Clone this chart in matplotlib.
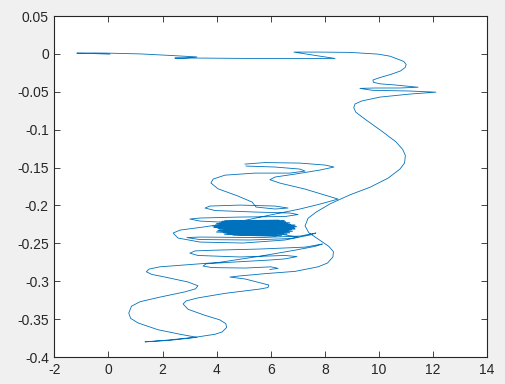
import numpy as np
import matplotlib
matplotlib.use("Agg")
import matplotlib.pyplot as plt

plt.rcParams['font.family'] = ['Liberation Sans', 'DejaVu Sans']
plt.rcParams['axes.unicode_minus'] = False

# traced trajectory, in data units (x, y)
# top line, right-hand loops, big S down to the bottom, left loop, long line up
seg_main = [
    (0.05, -0.0003), (-0.60, 0.0005), (-1.17, 0.001), (-0.50, 0.0012), (-0.02, 0.001),
    (1.17, 0.000), (2.27, -0.002),
    (3.27, -0.004), (2.83, -0.0055), (2.46, -0.0055), (3.38, -0.0055), (5.23, -0.006),
    (7.08, -0.006), (8.38, -0.006), (7.64, -0.002), (6.86, 0.0024), (7.82, 0.0024),
    (8.93, 0.002), (9.97, -0.0003), (10.41, -0.003), (10.71, -0.007), (10.92, -0.0100),
    (11.01, -0.0140), (10.97, -0.0180), (10.80, -0.0225), (10.48, -0.0266), (9.97, -0.032),
    (9.78, -0.0345), (9.80, -0.0375), (10.05, -0.0395),
    (10.6, -0.041), (11.45, -0.044), (10.78, -0.045), (9.86, -0.045), (9.30, -0.0455),
    (9.75, -0.048), (11.15, -0.049), (12.11, -0.0505), (11.15, -0.053), (10.04, -0.057),
    (9.38, -0.062), (9.12, -0.066), (9.07, -0.071), (9.15, -0.077), (9.52, -0.087), (10.11, -0.102),
    (10.63, -0.116), (10.88, -0.126), (10.98, -0.134), (10.95, -0.144), (10.78, -0.152), (10.34, -0.164),
    (9.67, -0.176), (8.93, -0.186), (8.19, -0.198), (7.67, -0.209), (7.38, -0.217),
    (7.27, -0.227), (7.41, -0.236), (7.82, -0.246), (8.15, -0.254), (8.32, -0.261),
    (8.30, -0.268), (8.10, -0.276), (7.75, -0.281), (6.90, -0.287), (5.79, -0.290), (4.86, -0.293),
    (4.49, -0.2945), (5.05, -0.297), (5.64, -0.3024), (5.93, -0.305), (5.90, -0.3083),
    (5.60, -0.3103), (4.31, -0.316), (3.31, -0.322), (2.87, -0.326), (2.76, -0.330),
    (2.94, -0.337), (3.57, -0.345), (4.12, -0.351), (4.34, -0.356), (4.37, -0.361),
    (4.20, -0.367), (3.94, -0.370), (3.20, -0.374), (2.09, -0.378), (1.35, -0.380), (2.27, -0.378),
    (3.27, -0.374), (2.65, -0.370), (1.83, -0.364), (1.09, -0.355), (0.82, -0.349), (0.75, -0.342),
    (0.85, -0.333), (1.17, -0.327), (1.90, -0.321), (2.83, -0.314), (3.22, -0.310),
    (3.31, -0.306), (2.94, -0.301), (2.09, -0.2945), (1.60, -0.2910), (1.40, -0.2875),
    (1.50, -0.2840), (1.90, -0.2810), (2.65, -0.279), (4.12, -0.275), (5.60, -0.267), (6.90, -0.259),
    (7.64, -0.254), (7.90, -0.251),
]

# loops below the dense patch
seg_lower = [
    (7.90, -0.251), (7.27, -0.255), (5.60, -0.2575), (3.94, -0.259), (3.20, -0.260),
    (3.01, -0.263), (3.31, -0.266), (4.86, -0.268), (6.53, -0.266), (6.97, -0.2675),
    (6.53, -0.2705), (5.97, -0.272), (4.49, -0.275), (3.61, -0.277), (3.50, -0.280),
    (3.83, -0.282), (5.05, -0.2826), (6.01, -0.281), (6.27, -0.283), (5.97, -0.2845),
]

# loops above, coming down into the dense patch
seg_upper = [
    (5.05, -0.1454), (5.79, -0.1434), (7.08, -0.1441), (8.01, -0.1467), (8.34, -0.1493),
    (7.82, -0.1533), (6.90, -0.1586), (6.16, -0.1625), (5.97, -0.166), (6.34, -0.1705),
    (7.27, -0.1784), (8.12, -0.1876), (8.49, -0.1916), (7.82, -0.1982), (7.08, -0.2047),
    (5.97, -0.2127), (4.75, -0.2219), (3.50, -0.2285), (2.65, -0.2325), (2.39, -0.2364),
    (2.57, -0.243), (3.38, -0.2483), (4.97, -0.2496), (6.53, -0.2456), (7.45, -0.239),
    (7.67, -0.2364), (7.08, -0.2404), (5.60, -0.2424), (3.38, -0.2417), (2.90, -0.2424),
    (3.38, -0.245), (5.23, -0.2456), (6.71, -0.2437), (7.01, -0.2417), (6.34, -0.2377),
    (5.23, -0.2338),
]

seg_upper2 = [
    (5.09, -0.148), (6.16, -0.1493), (7.08, -0.152), (7.27, -0.1546), (6.71, -0.1573),
    (5.42, -0.1573), (4.31, -0.160), (3.87, -0.1652), (3.79, -0.1704), (4.05, -0.178),
    (4.79, -0.1876), (5.31, -0.1955), (5.46, -0.2021), (6.16, -0.2047), (6.64, -0.2034),
    (6.16, -0.2008), (4.86, -0.1995), (3.75, -0.2008), (3.57, -0.2034), (3.94, -0.2067),
    (5.42, -0.2087), (6.71, -0.210), (7.01, -0.212), (6.53, -0.2146), (4.86, -0.2153),
    (3.38, -0.2166), (3.01, -0.2179), (3.38, -0.2206), (4.12, -0.2219),
]

# dense oscillation near (5.3, -0.23)
seg_patch = [
    (4.12, -0.222), (6.60, -0.224), (3.95, -0.226), (6.85, -0.229), (4.05, -0.233),
    (6.70, -0.236), (4.30, -0.238), (6.40, -0.240), (4.50, -0.236), (6.75, -0.232),
    (3.90, -0.229), (6.90, -0.226), (4.20, -0.221), (6.50, -0.220), (4.00, -0.224),
    (6.95, -0.228), (4.10, -0.231), (6.80, -0.234), (4.40, -0.237), (6.60, -0.238),
    (4.00, -0.235), (6.90, -0.231), (3.85, -0.227), (6.70, -0.223), (4.30, -0.2205),
    (6.30, -0.2195), (4.15, -0.225), (6.85, -0.227), (4.05, -0.230), (6.65, -0.233),
    (4.25, -0.236), (6.45, -0.237), (4.60, -0.239), (6.20, -0.2405), (4.35, -0.234),
    (6.88, -0.230), (3.92, -0.228), (6.72, -0.225), (4.18, -0.223), (6.55, -0.2215),
    (4.45, -0.228), (6.35, -0.231), (4.70, -0.230), (6.10, -0.229), (5.00, -0.229),
    (5.60, -0.228), (5.30, -0.2285),
]

x_ticks = [-2, 0, 2, 4, 6, 8, 10, 12, 14]
y_ticks = [-0.4, -0.35, -0.3, -0.25, -0.2, -0.15, -0.1, -0.05, 0, 0.05]
y_labels = ['-0.4', '-0.35', '-0.3', '-0.25', '-0.2', '-0.15', '-0.1', '-0.05', '0', '0.05']

line_color = '#0072BD'
axis_color = '#262626'

fig = plt.figure(figsize=(5.06, 3.84), dpi=100, facecolor='#f0f0f0')
ax = fig.add_axes([0.1075, 0.0703, 0.855, 0.888])
ax.set_facecolor('white')

# join segments with gaps
xs, ys = [], []
for seg in [seg_main, seg_lower, seg_upper, seg_upper2]:
    xs += [p[0] for p in seg] + [np.nan]
    ys += [p[1] for p in seg] + [np.nan]
ax.plot(xs, ys, color=line_color, linewidth=0.6)

px = [p[0] for p in seg_patch]
py = [p[1] for p in seg_patch]
ax.plot(px, py, color=line_color, linewidth=0.8)

ax.set_xlim(-2, 14)
ax.set_ylim(-0.4, 0.05)
ax.set_xticks(x_ticks)
ax.set_xticklabels([str(t) for t in x_ticks])
ax.set_yticks(y_ticks)
ax.set_yticklabels(y_labels)

ax.tick_params(direction='in', length=4, width=0.6, colors=axis_color,
               labelsize=10, top=True, right=True, pad=4)
for sp in ax.spines.values():
    sp.set_color(axis_color)
    sp.set_linewidth(0.8)

fig.savefig('out.png', dpi=100, facecolor=fig.get_facecolor())
